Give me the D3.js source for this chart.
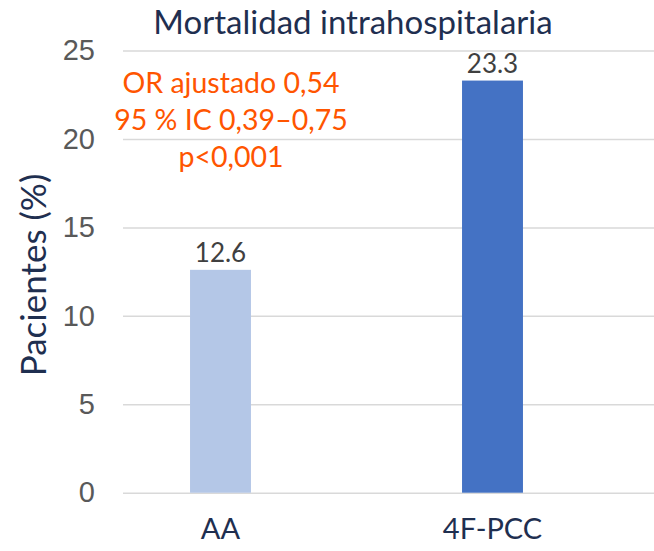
<!DOCTYPE html>
<html>
<head>
<meta charset="utf-8">
<script src="https://cdn.jsdelivr.net/npm/d3@7"></script>
<style>
  body { margin: 0; background: #fff; }
  svg { display: block; }
</style>
</head>
<body>
<div id="chart"></div>
<script>
// data
const categories = ["AA", "4F-PCC"];
const values = [12.6, 23.3];
const barColors = ["#b4c7e7", "#4472c4"];
const yTicks = [0, 5, 10, 15, 20, 25];
const noteLines = ["OR ajustado 0,54", "95 % IC 0,39\u20130,75", "p<0,001"];
const title = "Mortalidad intrahospitalaria";
const yTitle = "Pacientes (%)";

const width = 654, height = 551;
const font = "Lato, 'Open Sans', sans-serif";

const svg = d3.select("#chart").append("svg")
    .attr("width", width)
    .attr("height", height);

// scales
const y = d3.scaleLinear().domain([0, 25]).range([492.7, 50.5]);
const x = d3.scaleBand()
    .domain(categories)
    .range([84.5, 628.5])
    .paddingInner(0.776)
    .paddingOuter(0.388);

// gridlines + tick labels
const yAxis = d3.axisLeft(y)
    .tickValues(yTicks)
    .tickSize(-(width - 123))
    .tickPadding(28);

const gy = svg.append("g")
    .attr("transform", "translate(123,0)")
    .call(yAxis);
gy.select(".domain").remove();
gy.selectAll(".tick line")
    .attr("stroke", "#d9d9d9")
    .attr("stroke-width", 1.5);
gy.selectAll(".tick text")
    .attr("fill", "#595959")
    .style("font-family", "'Liberation Sans', Arial, sans-serif")
    .style("font-size", "29px");

// bars
svg.selectAll("rect.bar")
    .data(values)
    .enter()
    .append("rect")
    .attr("class", "bar")
    .attr("x", (d, i) => x(categories[i]))
    .attr("width", x.bandwidth())
    .attr("y", d => y(d))
    .attr("height", d => y(0) - y(d))
    .attr("fill", (d, i) => barColors[i]);

// value labels
svg.selectAll("text.val")
    .data(values)
    .enter()
    .append("text")
    .attr("class", "val")
    .attr("x", (d, i) => x(categories[i]) + x.bandwidth() / 2)
    .attr("y", d => y(d) - 8)
    .attr("text-anchor", "middle")
    .attr("fill", "#404040")
    .style("font-family", font)
    .style("font-size", "26px")
    .text(d => d.toFixed(1));

// category labels
const gx = svg.append("g")
    .attr("transform", `translate(0,${y(0)})`)
    .call(d3.axisBottom(x).tickSize(0).tickPadding(26));
gx.select(".domain").remove();
gx.selectAll(".tick text")
    .attr("fill", "#1f2f50")
    .style("font-family", font)
    .style("font-size", "29px");

// title
svg.append("text")
    .attr("x", 353)
    .attr("y", 34)
    .attr("text-anchor", "middle")
    .attr("fill", "#1f2f50")
    .style("font-family", font)
    .style("font-size", "33px")
    .text(title);

// y axis title
svg.append("text")
    .attr("transform", "translate(46,275) rotate(-90)")
    .attr("text-anchor", "middle")
    .attr("fill", "#1f2f50")
    .style("font-family", font)
    .style("font-size", "35px")
    .text(yTitle);

// annotation
svg.append("g").selectAll("text")
    .data(noteLines)
    .enter()
    .append("text")
    .attr("x", 231)
    .attr("y", (d, i) => 93 + i * 37)
    .attr("text-anchor", "middle")
    .attr("fill", "#ff5500")
    .style("font-family", font)
    .style("font-size", "28.5px")
    .text(d => d);
</script>
</body>
</html>
